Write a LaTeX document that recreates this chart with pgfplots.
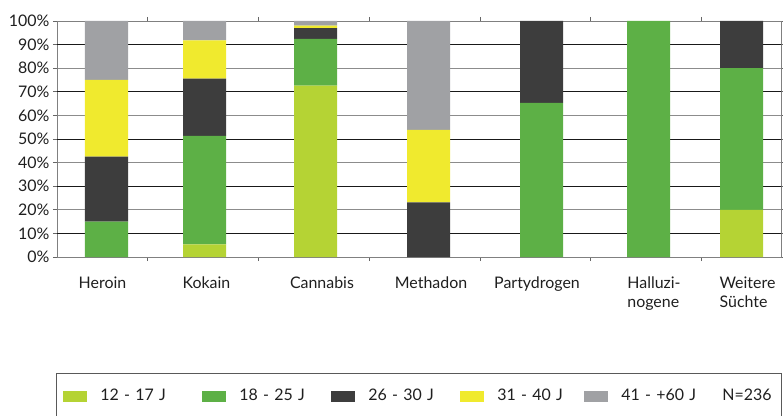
\documentclass[border=0pt]{standalone}
\usepackage{fontspec}
\setmainfont{Lato}
\usepackage{pgfplots}
\usepackage{pgfplotstable}
\pgfplotsset{compat=1.18}

\definecolor{cLime}{HTML}{B5D334}
\definecolor{cGreen}{HTML}{5DB046}
\definecolor{cDark}{HTML}{3D3D3D}
\definecolor{cYellow}{HTML}{F0EA2E}
\definecolor{cGrey}{HTML}{A0A1A4}

% x = bar centre (in px of the reference), shares in percent
\pgfplotstableread{
x      lime  green  dark  yellow  grey
106.5  0     15     27.5  32.5    25
204.5  5.4   45.9   24.3  16.2    8.2
315.5  72.6  19.8   4.6   1.0     2.0
428.5  0     0      23.1  30.8    46.1
541.5  0     65.3   34.7  0       0
648.5  0     100    0     0       0
741.5  20    60     20    0       0
}\agedata

\begin{document}
\begin{tikzpicture}
\useasboundingbox (-57bp,-159bp) rectangle (726bp,257bp);
\begin{axis}[
  at={(0,0)}, anchor=south west,
  scale only axis, width=724bp, height=236bp,
  xmin=57, xmax=781, ymin=0, ymax=100,
  ybar stacked, bar width=43,
  axis line style={draw=black!50, line width=0.9bp},
  tick style={draw=black!60, line width=0.8bp},
  tick align=outside, major tick length=4bp,
  xtick={147,258,369,480,590,701}, xticklabels={},
  extra x ticks={102.5,206.5,322,431,537,654,747.5},
  extra x tick labels={Heroin,Kokain,Cannabis,Methadon,Partydrogen,Halluzi-\\nogene,Weitere\\Süchte},
  extra x tick style={tick style={draw=none}},
  x tick label style={align=left, yshift=-12bp},
  ytick={0,20,...,100},
  extra y ticks={10,30,50,70,90},
  extra y tick style={grid=major, major grid style={draw=black!90, line width=0.9bp}},
  ymajorgrids, major grid style={draw=black!45, line width=0.9bp},
  yticklabel={\pgfmathprintnumber{\tick}\%},
  /pgf/number format/assume math mode=true,
  every tick label/.append style={font=\fontsize{16}{19}\selectfont, text=black!88},
  legend style={at={(-0.00138,-0.4915)}, anchor=north west, legend columns=6,
    draw=black!65, line width=0.8bp, inner xsep=7bp, inner ysep=12.5bp,
    font=\fontsize{16}{19}\selectfont, text=black!88,
    nodes={inner xsep=0pt, inner ysep=3bp, text height=12bp, text depth=4bp, anchor=west},
    /tikz/every odd column/.style={column sep=13bp},
    /tikz/every even column/.style={column sep=0bp}},
  legend image code/.code={\fill[#1] (0bp,-5.5bp) rectangle (24bp,5.5bp);},
]
\addplot[fill=cLime, draw=none] table[x=x, y=lime] {\agedata};
\addlegendentry[text width=102bp]{12 - 17 J}
\addplot[fill=cGreen, draw=none] table[x=x, y=green] {\agedata};
\addlegendentry[text width=92bp]{18 - 25 J}
\addplot[fill=cDark, draw=none] table[x=x, y=dark] {\agedata};
\addlegendentry[text width=92bp]{26 - 30 J}
\addplot[fill=cYellow, draw=none] table[x=x, y=yellow] {\agedata};
\addlegendentry[text width=87bp]{31 - 40 J}
\addplot[fill=cGrey, draw=none] table[x=x, y=grey] {\agedata};
\addlegendentry[text width=88bp]{41 - +60 J}
\addlegendimage{empty legend}
\addlegendentry[text width=52bp]{N=236}
\end{axis}
\end{tikzpicture}
\end{document}
